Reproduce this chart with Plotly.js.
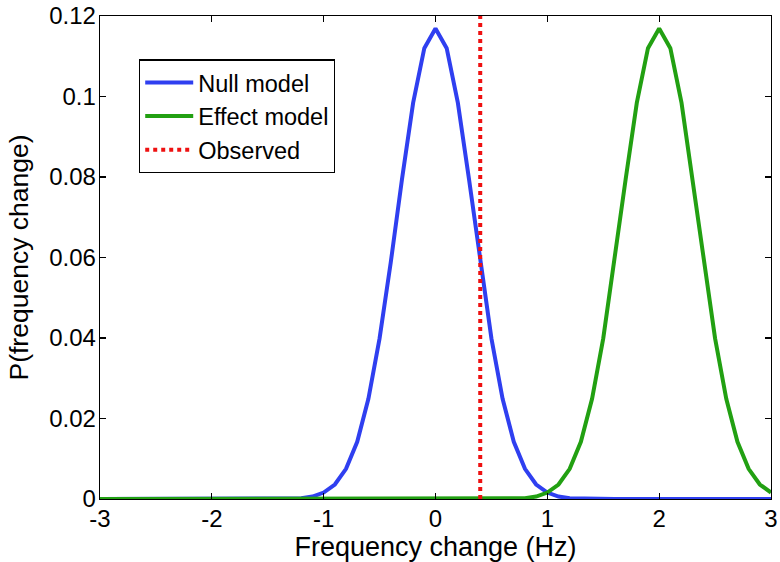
<!DOCTYPE html>
<html>
<head>
<meta charset="utf-8">
<script src="https://cdn.plot.ly/plotly-3.0.1.min.js"></script>
<style>
html,body{margin:0;padding:0;background:#fff;}
#chart{width:780px;height:562px;}
</style>
</head>
<body>
<div id="chart"></div>
<script>
const freq = [-3.0,-2.9,-2.8,-2.7,-2.6,-2.5,-2.4,-2.3,-2.2,-2.1,-2.0,-1.9,-1.8,-1.7,-1.6,-1.5,-1.4,-1.3,-1.2,-1.1,-1.0,-0.9,-0.8,-0.7,-0.6,-0.5,-0.4,-0.3,-0.2,-0.1,0.0,0.1,0.2,0.3,0.4,0.5,0.6,0.7,0.8,0.9,1.0,1.1,1.2,1.3,1.4,1.5,1.6,1.7,1.8,1.9,2.0,2.1,2.2,2.3,2.4,2.5,2.6,2.7,2.8,2.9,3.0];
const nullModel = [0,0,0,0,0,0,0,0,0,0,0,0,0,0,0,0,0,
  0.0001,0.0002,0.0006,0.0016,0.0036,0.0075,0.0142,0.0249,0.0399,0.0588,0.0794,0.0984,0.1120,
  0.1169,
  0.1120,0.0984,0.0794,0.0588,0.0399,0.0249,0.0142,0.0075,0.0036,0.0016,0.0006,0.0002,0.0001,
  0,0,0,0,0,0,0,0,0,0,0,0,0,0,0,0,0];
const effectModel = [0,0,0,0,0,0,0,0,0,0,0,0,0,0,0,0,0,0,0,0,0,0,0,0,0,0,0,0,0,0,0,0,0,0,0,0,0,
  0.0001,0.0002,0.0006,0.0016,0.0036,0.0075,0.0142,0.0249,0.0399,0.0588,0.0794,0.0984,0.1120,
  0.1169,
  0.1120,0.0984,0.0794,0.0588,0.0399,0.0249,0.0142,0.0075,0.0036,0.0016];
const observedX = [0.4, 0.4];
const observedY = [0, 0.12];
const xTicks = [-3,-2,-1,0,1,2,3];
const xTickText = ['-3','-2','-1','0','1','2','3'];
const yTicks = [0,0.02,0.04,0.06,0.08,0.1,0.12];
const yTickText = ['0','0.02','0.04','0.06','0.08','0.1','0.12'];

const font = 'Liberation Sans, Arial, Helvetica, sans-serif';
const traces = [
  {x: freq, y: nullModel, type: 'scatter', mode: 'lines', name: 'Null model',
   line: {color: '#2f3ff0', width: 4}},
  {x: freq, y: effectModel, type: 'scatter', mode: 'lines', name: 'Effect model',
   line: {color: '#22a012', width: 4}},
  {x: observedX, y: observedY, type: 'scatter', mode: 'lines', name: 'Observed',
   line: {color: '#ee1111', width: 4, dash: 'dot'}}
];
const layout = {
  width: 780, height: 562,
  margin: {l: 100, r: 9, t: 16, b: 63},
  paper_bgcolor: '#fff', plot_bgcolor: '#fff',
  font: {family: font, size: 24, color: '#000'},
  showlegend: true,
  legend: {x: 0.058, y: 0.91, xanchor: 'left', yanchor: 'top',
    bgcolor: '#fff', bordercolor: '#000', borderwidth: 1.3, itemwidth: 48,
    entrywidth: 210, entrywidthmode: 'pixels',
    font: {family: font, size: 23.5, color: '#000'}, tracegroupgap: 0},
  xaxis: {range: [-3, 3], tickvals: xTicks, ticktext: xTickText, ticks: 'inside', ticklen: 6, tickwidth: 1.3,
    tickcolor: '#000', showline: true, linecolor: '#000', linewidth: 1.3, mirror: 'ticks',
    showgrid: false, zeroline: false, tickfont: {size: 24}, ticklabelstandoff: -2,
    title: {text: 'Frequency change (Hz)', font: {size: 27}, standoff: 1}},
  yaxis: {range: [0, 0.12], tickvals: yTicks, ticktext: yTickText, ticks: 'inside', ticklen: 6, tickwidth: 1.3,
    tickcolor: '#000', showline: true, linecolor: '#000', linewidth: 1.3, mirror: 'ticks',
    showgrid: false, zeroline: false, tickfont: {size: 24}, ticklabelstandoff: -2,
    title: {text: 'P(frequency change)', font: {size: 26.5}, standoff: 13}}
};
Plotly.newPlot('chart', traces, layout, {displayModeBar: false, staticPlot: true});
</script>
</body>
</html>
